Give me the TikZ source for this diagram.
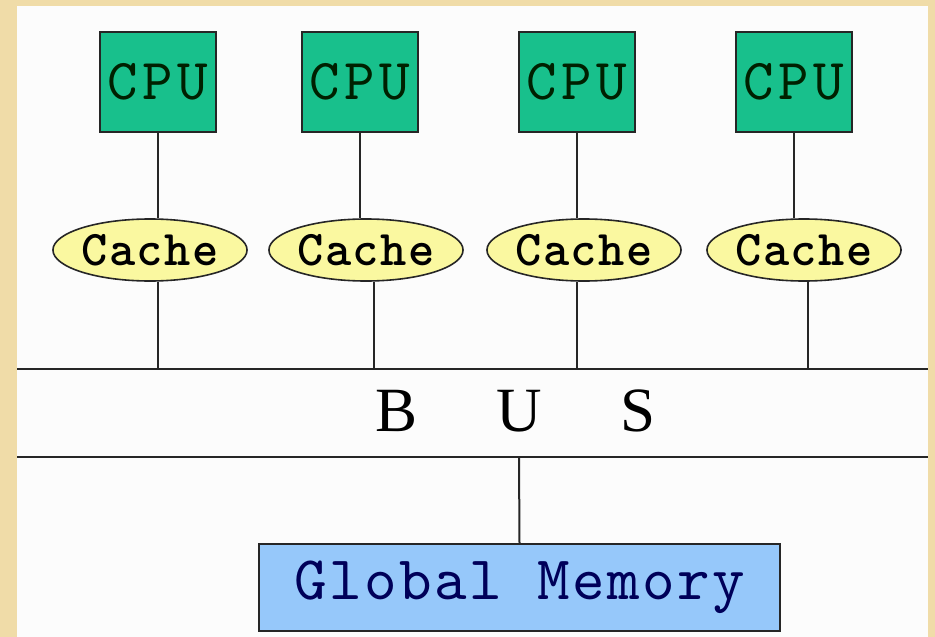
\documentclass[tikz,border=0pt]{standalone}
\usepackage{fontspec}
\usepackage{xcolor}
\usepackage{tikz}
\setmainfont{Liberation Serif}
\newfontfamily\cpufont[LetterSpace=8]{lmmono10-regular.otf}
\newfontfamily\memfont[LetterSpace=4]{lmmono10-regular.otf}
\newfontfamily\cachefont[LetterSpace=3]{lmmonolt10-bold.otf}

\definecolor{frametan}{RGB}{240,220,168}
\definecolor{cpugreen}{RGB}{24,192,140}
\definecolor{cacheyellow}{RGB}{250,248,160}
\definecolor{memblue}{RGB}{150,200,250}

\tikzset{
	cpubox/.style={draw=black!85,line width=2pt,fill=cpugreen,minimum width=116pt,minimum height=100pt,inner sep=0pt,text=black!75!green!50!black,font=\cpufont\fontsize{58}{58}\selectfont},
	cacheoval/.style={draw=black!85,line width=1.6pt,fill=cacheyellow,ellipse,minimum width=188pt,minimum height=62pt,inner sep=0pt,font=\cachefont\fontsize{50}{50}\selectfont},
	membox/.style={draw=black!85,line width=2pt,fill=memblue,minimum width=521pt,minimum height=87pt,inner sep=0pt,text=blue!35!black,font=\memfont\fontsize{62}{62}\selectfont},
	wire/.style={draw=black!85,line width=2pt}
}
\usetikzlibrary{shapes.geometric}

\begin{document}
\begin{tikzpicture}[x=1pt,y=-1pt]
	\fill[frametan] (0,0) rectangle (935,637);
	\fill[white!98!gray] (17,6) rectangle (928,637);
	\useasboundingbox (0,0) rectangle (935,637);

	\coordinate (bustopL) at (17,369);
	\coordinate (bustopR) at (928,369);
	\coordinate (busbotL) at (17,457);
	\coordinate (busbotR) at (928,457);
	\draw[wire] (bustopL) -- (bustopR);
	\draw[wire] (busbotL) -- (busbotR);
	\node[font=\fontsize{63}{63}\selectfont] (bus) at (516,411) {B\quad\ U\quad\ S};

	\foreach \i/\cx/\kx/\tx in {1/158/150/158, 2/360/366/374, 3/577/584/577, 4/794/804/808}{
		\node[cpubox] (cpu\i) at (\cx,82) {CPU};
		\node[cacheoval] (cache\i) at (\kx,250) {Cache};
		\coordinate (tap\i) at (\tx,369);
		\draw[wire] (cpu\i.south) -- (cpu\i.south |- cache\i.north);
		\draw[wire] (tap\i |- cache\i.south) -- (tap\i);
	}

	\node[membox] (mem) at (519.5,587.5) {Global Memory};
	\coordinate (memtap) at (519,457);
	\draw[wire] (memtap) -- (mem.north);
\end{tikzpicture}
\end{document}
